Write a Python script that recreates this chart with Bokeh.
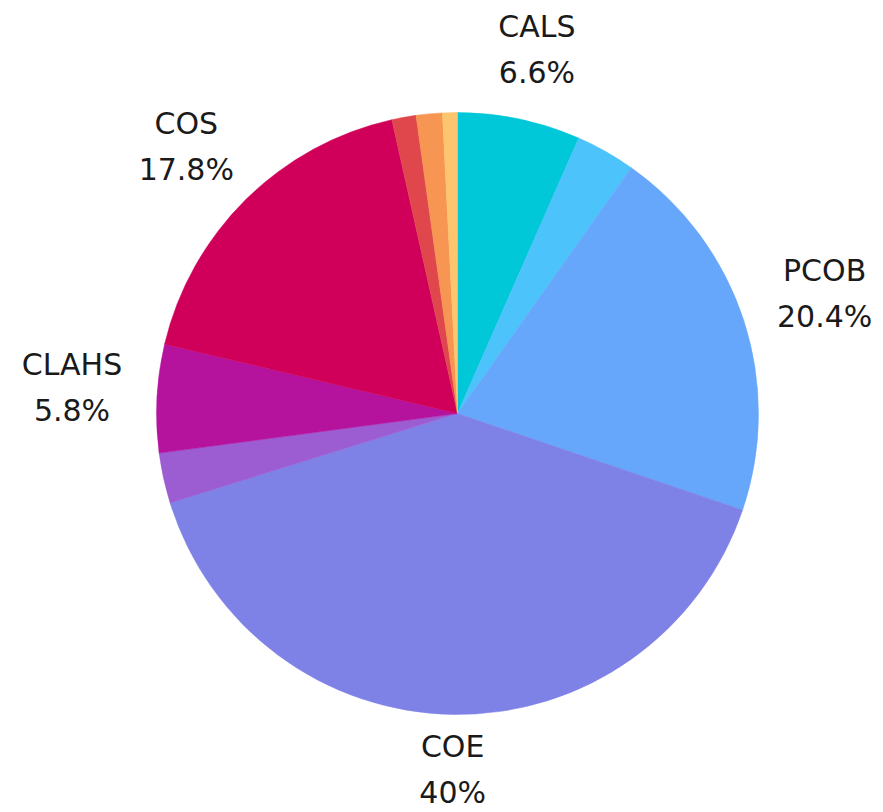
import math
from bokeh.plotting import figure
from bokeh.models import ColumnDataSource
from bokeh.core.properties import value
from bokeh.embed import file_html
from bokeh.resources import INLINE

# Data (clockwise from 12 o'clock)
names = ["CALS", "", "PCOB", "COE", "", "CLAHS", "COS", "", "", ""]
shares = [6.6, 3.2, 20.4, 40.0, 2.7, 5.8, 17.8, 1.3, 1.4, 0.8]
colors = ["#00c8d9", "#4cc3fa", "#66a7fb", "#7e82e6", "#9c5cd2",
          "#b5139e", "#d0005a", "#e0474c", "#f79552", "#fdc56e"]

R = 301
LABEL_RX = 386
LABEL_RY = 364
LABEL_DY = 8
LINE_GAP = 23

total = sum(shares)
starts, ends, lx, ly, lname, lpct = [], [], [], [], [], []
cum = 0.0
for n, s in zip(names, shares):
    a0 = math.pi / 2 - 2 * math.pi * cum / total
    cum += s
    a1 = math.pi / 2 - 2 * math.pi * cum / total
    starts.append(a0)
    ends.append(a1)
    if n:
        mid = (a0 + a1) / 2
        lx.append(LABEL_RX * math.cos(mid))
        ly.append(LABEL_RY * math.sin(mid) + LABEL_DY)
        lname.append(n)
        lpct.append(("%g" % s) + "%")

src = ColumnDataSource(dict(start=starts, end=ends, color=colors))
lsrc = ColumnDataSource(dict(x=lx, name=lname, pct=lpct,
                             y1=[v + LINE_GAP for v in ly],
                             y2=[v - LINE_GAP for v in ly]))

W, H = 883, 812
CX, CY = 457, 413
p = figure(width=W, height=H, output_backend="svg", toolbar_location=None,
           x_range=(-CX, W - CX), y_range=(CY - H, CY),
           min_border=0)
p.axis.visible = False
p.grid.visible = False
p.outline_line_color = None
p.background_fill_color = "white"
p.border_fill_color = "white"

p.wedge(x=0, y=0, radius=R, start_angle="start", end_angle="end",
        direction="clock", fill_color="color", line_color="color",
        line_width=0.5, source=src)

for col, txt in (("y1", "name"), ("y2", "pct")):
    p.text(x="x", y=col, text=txt, source=lsrc,
           text_align="center", text_baseline="middle",
           text_font=value("DejaVu Sans"), text_font_size="30px",
           text_color="#1a1a1a")

open("out.html", "w").write(file_html(p, INLINE))
